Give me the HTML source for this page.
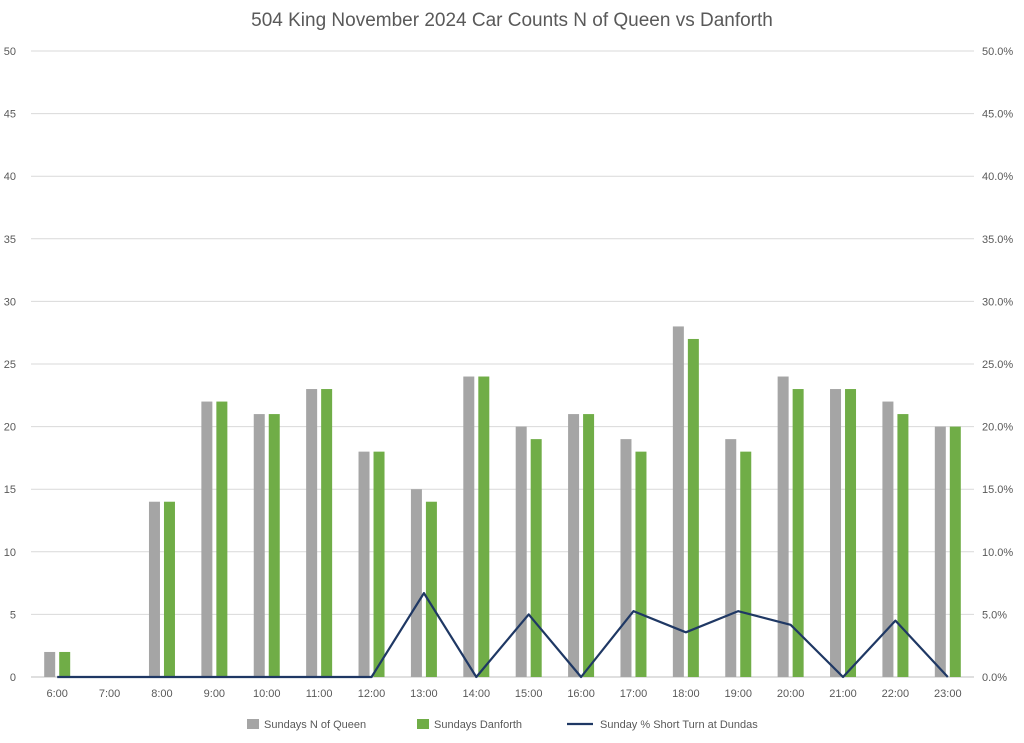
<!DOCTYPE html>
<html><head><meta charset="utf-8"><style>
body{margin:0;background:#fff;font-family:"Liberation Sans",sans-serif}
svg text{font-family:"Liberation Sans",sans-serif;fill:#595959}
</style></head><body>
<svg id="c" width="1024" height="738"></svg>
<script>
const categories=["6:00","7:00","8:00","9:00","10:00","11:00","12:00","13:00","14:00","15:00","16:00","17:00","18:00","19:00","20:00","21:00","22:00","23:00"];
const queenValues=[2,0,14,22,21,23,18,15,24,20,21,19,28,19,24,23,22,20];
const danforthValues=[2,0,14,22,21,23,18,14,24,19,21,18,27,18,23,23,21,20];
const shortTurnPct=[0,0,0,0,0,0,0,6.7,0,5.0,0,5.26,3.57,5.26,4.17,0,4.5,0];
const leftTicks=[0,5,10,15,20,25,30,35,40,45,50];
const rightTicks=["0.0%","5.0%","10.0%","15.0%","20.0%","25.0%","30.0%","35.0%","40.0%","45.0%","50.0%"];
const NS="http://www.w3.org/2000/svg";
const svg=document.getElementById('c');
const L=31,R=974,T=51,B=677;
const step=(R-L)/categories.length;
const y=v=>B-(v/50)*(B-T);
const y2=p=>B-(p/50)*(B-T);
const xc=i=>L+step*(i+0.5);
function mk(tag,a,txt){const e=document.createElementNS(NS,tag);for(const k in a)e.setAttribute(k,a[k]);if(txt!==undefined)e.textContent=txt;svg.appendChild(e);return e;}
let t=mk('text',{x:512,y:26,'text-anchor':'middle','font-size':19});t.textContent="504 King November 2024 Car Counts N of Queen vs Danforth";


leftTicks.forEach((v,i)=>{
 const g=mk('line',{x1:L,x2:R,y1:y(v),y2:y(v),stroke:v===0?'#bfbfbf':'#d9d9d9','stroke-width':1});
 
 
 const a=mk('text',{x:16,y:y(v)+4,'text-anchor':'end','font-size':11},String(v));
 
 
 const b=mk('text',{x:982,y:y(v)+4,'font-size':11},rightTicks[i]);
 
 
});
categories.forEach((c,i)=>{
 const bw=11;
 const r1=mk('rect',{x:xc(i)-bw-2,y:y(queenValues[i]),width:bw,height:B-y(queenValues[i]),fill:'#a5a5a5'});
 
 
 const r2=mk('rect',{x:xc(i)+2,y:y(danforthValues[i]),width:bw,height:B-y(danforthValues[i]),fill:'#70ad47'});
 
 
 const l=mk('text',{x:xc(i),y:697,'text-anchor':'middle','font-size':11},c);
 
 
});
const pts=shortTurnPct.map((p,i)=>xc(i)+','+y2(p)).join(' ');
const pl=mk('polyline',{points:pts,fill:'none',stroke:'#1f3864','stroke-width':2.2,'stroke-linejoin':'round'});


const leg=[["rect",'#a5a5a5',247,"Sundays N of Queen"],["rect",'#70ad47',417,"Sundays Danforth"],["line",'#1f3864',575,"Sunday % Short Turn at Dundas"]];
leg.forEach(d=>{
 let m;
 if(d[0]==="rect")m=mk('rect',{x:d[2],y:719,width:12,height:10,fill:d[1]});
 else m=mk('line',{x1:d[2]-8,x2:d[2]+18,y1:724,y2:724,stroke:d[1],'stroke-width':2.2});
 
 
 const tx=mk('text',{x:d[2]+(d[0]==="rect"?17:25),y:728,'font-size':11},d[3]);
 
 
});
</script>
</body></html>
